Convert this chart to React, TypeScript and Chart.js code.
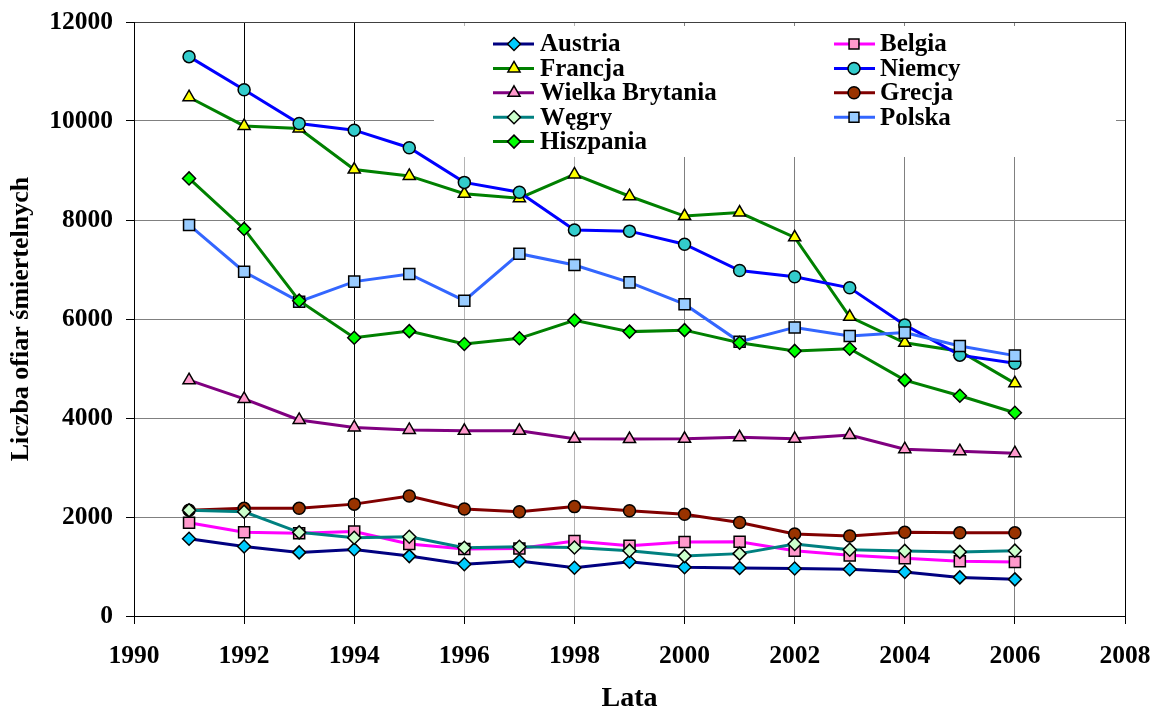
import React, { useEffect, useRef } from "react";
import { Chart, registerables } from "chart.js";

Chart.register(...registerables);

const years = [1991, 1992, 1993, 1994, 1995, 1996, 1997, 1998, 1999, 2000, 2001, 2002, 2003, 2004, 2005, 2006];

const austria = [1560, 1405, 1285, 1345, 1210, 1045, 1110, 975, 1095, 985, 970, 960, 945, 890, 780, 740];
const belgia = [1885, 1690, 1670, 1705, 1455, 1355, 1365, 1515, 1420, 1495, 1500, 1320, 1225, 1165, 1105, 1090];
const francja = [10480, 9900, 9850, 9020, 8890, 8530, 8440, 8920, 8480, 8080, 8150, 7650, 6045, 5520, 5350, 4700];
const niemcy = [11300, 10630, 9950, 9815, 9460, 8760, 8560, 7800, 7775, 7510, 6980, 6855, 6630, 5880, 5270, 5105];
const wielkaBrytania = [4765, 4385, 3960, 3810, 3760, 3740, 3740, 3580, 3575, 3580, 3610, 3580, 3655, 3370, 3330, 3290];
const grecja = [2135, 2175, 2175, 2260, 2425, 2160, 2105, 2210, 2125, 2055, 1890, 1655, 1615, 1690, 1680, 1680];
const wegry = [2135, 2105, 1690, 1580, 1600, 1380, 1400, 1385, 1320, 1210, 1260, 1455, 1340, 1315, 1295, 1320];
const polska = [7900, 6955, 6350, 6755, 6910, 6370, 7320, 7090, 6740, 6300, 5540, 5830, 5655, 5725, 5455, 5260];
const hiszpania = [8840, 7820, 6370, 5620, 5755, 5495, 5610, 5975, 5745, 5775, 5520, 5355, 5400, 4765, 4450, 4105];

const seriesNames = ["Austria", "Belgia", "Francja", "Niemcy", "Wielka Brytania", "Grecja", "Węgry", "Polska", "Hiszpania"];
const seriesValues = [austria, belgia, francja, niemcy, wielkaBrytania, grecja, wegry, polska, hiszpania];
const lineColors = ["#000080", "#FF00FF", "#008000", "#0000FF", "#800080", "#800000", "#008080", "#3366FF", "#008000"];
const markerColors = ["#00CCFF", "#FF99CC", "#FFFF00", "#33CCCC", "#FF99CC", "#993300", "#CCFFCC", "#99CCFF", "#00FF00"];
const markerStyles = ["rectRot", "rect", "triangle", "circle", "triangle", "circle", "rectRot", "rect", "rectRot"];
const markerRadii: Record<string, number> = { rectRot: 6.5, rect: 7.8, triangle: 7, circle: 6 };

const xMin = 1990;
const xMax = 2008;
const xStep = 2;
const yMin = 0;
const yMax = 12000;
const yStep = 2000;

const xTitle = "Lata";
const yTitle = "Liczba ofiar śmiertelnych";

const FONT_FAMILY = "'Liberation Serif', 'Times New Roman', serif";

function drawMarker(ctx: CanvasRenderingContext2D, style: string, x: number, y: number, r: number, fill: string) {
  ctx.beginPath();
  if (style === "circle") {
    ctx.arc(x, y, r, 0, Math.PI * 2);
  } else if (style === "rect") {
    const s = r * Math.SQRT1_2;
    ctx.rect(x - s, y - s, 2 * s, 2 * s);
  } else if (style === "rectRot") {
    ctx.moveTo(x - r, y);
    ctx.lineTo(x, y - r);
    ctx.lineTo(x + r, y);
    ctx.lineTo(x, y + r);
    ctx.closePath();
  } else {
    ctx.moveTo(x, y - r);
    ctx.lineTo(x + 0.866 * r, y + 0.5 * r);
    ctx.lineTo(x - 0.866 * r, y + 0.5 * r);
    ctx.closePath();
  }
  ctx.fillStyle = fill;
  ctx.fill();
  ctx.lineWidth = 1.5;
  ctx.strokeStyle = "#000";
  ctx.stroke();
}

const legendPlugin = {
  id: "customLegend",
  beforeDatasetsDraw(chart: any) {
    const ctx = chart.ctx as CanvasRenderingContext2D;
    ctx.save();
    ctx.fillStyle = "#ffffff";
    ctx.fillRect(434, 26, 682, 131);
    ctx.restore();
  },
  afterDraw(chart: any) {
    const ctx = chart.ctx as CanvasRenderingContext2D;
    ctx.save();
    const rowY = [44, 68.4, 92.8, 117.2, 141.6];
    const cols = [
      { lx0: 493, lx1: 534, mx: 514, tx: 540 },
      { lx0: 834, lx1: 875, mx: 854, tx: 880 },
    ];
    seriesNames.forEach((name, i) => {
      const col = cols[i % 2];
      const y = rowY[Math.floor(i / 2)];
      ctx.beginPath();
      ctx.moveTo(col.lx0, y);
      ctx.lineTo(col.lx1, y);
      ctx.lineWidth = 3;
      ctx.strokeStyle = lineColors[i];
      ctx.stroke();
      drawMarker(ctx, markerStyles[i], col.mx, y, Math.min(markerRadii[markerStyles[i]], 7), markerColors[i]);
      ctx.fillStyle = "#000";
      ctx.font = `bold 25px ${FONT_FAMILY}`;
      ctx.textBaseline = "middle";
      ctx.textAlign = "left";
      ctx.fillText(name, col.tx, y + 1);
    });
    ctx.restore();
  },
};

function xGridColor(ctx: any) {
  const v = ctx.tick ? ctx.tick.value : 0;
  if (v === 1992 || v === 1994 || v === 1990 || v === 2008) return "#000000";
  if (v === 1996 || v === 1998) return "#B4B4B4";
  return "#808080";
}

function yGridColor(ctx: any) {
  const v = ctx.tick ? ctx.tick.value : 0;
  if (v === 0) return "#000000";
  if (v === 12000) return "#404040";
  return "#808080";
}

export default function App() {
  const canvasRef = useRef<HTMLCanvasElement | null>(null);

  useEffect(() => {
    const canvas = canvasRef.current;
    if (!canvas) return;
    const datasets = seriesNames.map((name, i) => ({
      label: name,
      data: years.map((yr, j) => ({ x: yr, y: seriesValues[i][j] })),
      borderColor: lineColors[i],
      backgroundColor: markerColors[i],
      borderWidth: 3,
      tension: 0,
      pointStyle: markerStyles[i],
      pointRadius: markerRadii[markerStyles[i]],
      pointBackgroundColor: markerColors[i],
      pointBorderColor: "#000000",
      pointBorderWidth: 1.5,
      order: seriesNames.length - i,
      clip: false as any,
    }));

    const chart = new Chart(canvas, {
      type: "line",
      data: { datasets },
      plugins: [legendPlugin],
      options: {
        responsive: false,
        animation: false,
        devicePixelRatio: 1,
        layout: { padding: { top: 22, right: 29, bottom: 0, left: 0 } },
        plugins: {
          legend: { display: false },
          tooltip: { enabled: false },
        },
        scales: {
          x: {
            type: "linear",
            min: xMin,
            max: xMax,
            afterFit: (s: any) => {
              s.height = 92;
              s.paddingLeft = 0;
              s.paddingRight = 0;
            },
            ticks: {
              stepSize: xStep,
              color: "#000",
              padding: 17,
              maxRotation: 0,
              font: { family: FONT_FAMILY, size: 25.5, weight: "bold" },
              callback: (v: any) => String(v),
            },
            grid: {
              color: xGridColor,
              tickColor: "#000000",
              tickLength: 8,
              lineWidth: 1,
            },
            border: { color: "#000000", width: 1 },
            title: {
              display: true,
              text: xTitle,
              color: "#000",
              font: { family: FONT_FAMILY, size: 28, weight: "bold", lineHeight: 1 },
              padding: { top: 0, bottom: -4.5 },
            },
          },
          y: {
            type: "linear",
            min: yMin,
            max: yMax,
            afterFit: (s: any) => {
              s.width = 134;
              s.paddingTop = 0;
              s.paddingBottom = 0;
            },
            ticks: {
              stepSize: yStep,
              color: "#000",
              padding: 13,
              font: { family: FONT_FAMILY, size: 25.5, weight: "bold" },
              callback: (v: any) => String(v),
            },
            grid: {
              color: yGridColor,
              tickColor: "#000000",
              tickLength: 8,
              lineWidth: 1,
            },
            border: { color: "#000000", width: 1 },
            title: {
              display: true,
              text: yTitle,
              color: "#000",
              font: { family: FONT_FAMILY, size: 26, weight: "bold", lineHeight: 1.2 },
              padding: { top: 6, bottom: 0 },
            },
          },
        },
      } as any,
    });
    return () => {
      chart.destroy();
    };
  }, []);

  return (
    <div style={{ position: "absolute", left: 0, top: 0, width: 1154, height: 708, background: "#fff" }}>
      <canvas ref={canvasRef} width={1154} height={708} style={{ display: "block" }} />
    </div>
  );
}
